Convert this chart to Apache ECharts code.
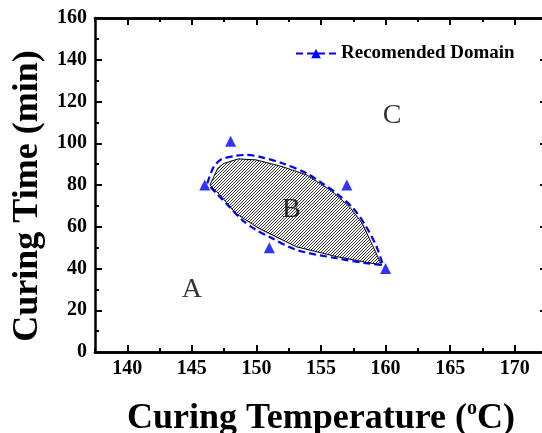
<!DOCTYPE html>
<html>
<head>
<meta charset="utf-8">
<script src="https://cdn.jsdelivr.net/npm/echarts@6/dist/echarts.min.js"></script>
<style>
  html, body { margin: 0; padding: 0; background: #fff; }
  #chart { width: 542px; height: 433px; }
</style>
</head>
<body>
<div id="chart"></div>
<script>
// experimental points (triangles)
const pointT = [146, 148, 151, 157, 160]
const pointTime = [80, 101, 50, 80, 40]

// hatched region (polygon outline)
const regionT = [146.4, 147.0, 147.5, 148.6, 150.0, 152.0, 153.9, 155.9, 157.2, 158.2, 159.7,
  156.2, 153.1, 150.2, 148.4, 147.3]
const regionTime = [80.0, 88.0, 90.4, 92.5, 92.0, 88.8, 84.8, 76.8, 69.6, 61.6, 41.6,
  45.7, 50.4, 59.2, 66.4, 74.4]

// dashed boundary of the recommended domain (closed)
const boundT = [146.2, 146.7, 147.3, 148.4, 149.2, 150.2, 152.0, 153.9, 155.1, 156.2, 157.5,
  158.5, 159.3, 159.8, 158.5, 156.2, 153.1, 151.0, 150.0, 148.9, 147.9, 146.9, 146.2]
const boundTime = [80.8, 88.8, 92.3, 94.0, 94.4, 93.6, 90.4, 85.6, 80.8, 76.0, 68.8,
  60.0, 50.4, 41.7, 42.5, 44.9, 48.9, 55.2, 58.4, 63.2, 69.6, 76.0, 80.8]

// zone letters
const zoneNames = ['A', 'B', 'C']
const zoneT = [145.0, 152.7, 160.5]
const zoneTime = [29.7, 68.0, 113.0]

const majorX = [140, 145, 150, 155, 160, 165, 170]

const FONT = 'Liberation Serif'

function hatchPattern() {
  const c = document.createElement('canvas')
  c.width = 3; c.height = 3
  const ctx = c.getContext('2d')
  ctx.fillStyle = '#fff'
  ctx.fillRect(0, 0, 3, 3)
  ctx.fillStyle = '#333'
  ctx.fillRect(0, 2, 1, 1)
  ctx.fillRect(1, 1, 1, 1)
  ctx.fillRect(2, 0, 1, 1)
  return c
}

const chart = echarts.init(document.getElementById('chart'), null, { renderer: 'canvas' })

const lineCol = '#000'
function xAxis(pos, major) {
  const a = {
    type: 'value', position: pos, min: 137.5, max: 172.5,
    axisLine: { show: true, onZero: false, lineStyle: { color: lineCol, width: 2.5 } },
    splitLine: { show: false },
    axisLabel: { show: false }
  }
  if (major) {
    a.axisTick = { show: true, inside: true, length: 7, lineStyle: { color: lineCol, width: 2 }, customValues: majorX }
    if (pos === 'bottom') {
      a.axisLabel = {
        show: true, customValues: majorX, margin: 7,
        color: '#000', fontFamily: FONT, fontWeight: 'bold', fontSize: 20
      }
      a.name = 'Curing Temperature ({sup|o}C)'
      a.nameLocation = 'middle'
      a.nameGap = 47
      a.nameTextStyle = {
        color: '#000', fontFamily: FONT, fontWeight: 'bold', fontSize: 36, lineHeight: 40,
        rich: { sup: { fontFamily: FONT, fontWeight: 'bold', fontSize: 20, verticalAlign: 'top', lineHeight: 22, color: '#000' } }
      }
    }
  } else {
    a.interval = 2.5
    a.axisTick = { show: true, inside: true, length: 4, lineStyle: { color: lineCol, width: 2 } }
  }
  return a
}

function yAxis(pos) {
  const a = {
    type: 'value', position: pos, min: 0, max: 160, interval: 20,
    axisLine: { show: true, onZero: false, lineStyle: { color: lineCol, width: 2.5 } },
    axisTick: { show: true, inside: true, length: 7, lineStyle: { color: lineCol, width: 2 } },
    minorTick: { show: true, splitNumber: 2, length: 4, lineStyle: { color: lineCol, width: 2 } },
    splitLine: { show: false },
    axisLabel: { show: false }
  }
  if (pos === 'left') {
    a.axisLabel = { show: true, margin: 8, color: '#000', fontFamily: FONT, fontWeight: 'bold', fontSize: 20 }
    a.name = 'Curing Time (min)'
    a.nameLocation = 'middle'
    a.nameGap = 48
    a.nameTextStyle = { color: '#000', fontFamily: FONT, fontWeight: 'bold', fontSize: 36, padding: [0, 22, 0, 0] }
  }
  return a
}

chart.setOption({
  animation: false,
  grid: { left: 95, right: -5, top: 18, bottom: 81, containLabel: false, outerBoundsMode: 'none' },
  xAxis: [xAxis('bottom', true), xAxis('bottom', false), xAxis('top', true), xAxis('top', false)],
  yAxis: [yAxis('left'), yAxis('right')],
  legend: {
    data: ['Recomended Domain'],
    left: 290, top: 39,
    itemWidth: 40, itemHeight: 12, itemGap: 10,
    textStyle: { color: '#000', fontFamily: FONT, fontWeight: 'bold', fontSize: 19 }
  },
  series: [
    {
      type: 'custom',
      name: 'region',
      data: [0],
      z: 2,
      renderItem: (params, api) => {
        const pts = regionT.map((t, i) => api.coord([t, regionTime[i]]))
        return {
          type: 'polygon',
          shape: { points: pts },
          style: { fill: { image: hatchPattern(), repeat: 'repeat' }, stroke: '#000', lineWidth: 1 }
        }
      }
    },
    {
      type: 'line',
      name: 'Recomended Domain',
      data: boundT.map((t, i) => [t, boundTime[i]]),
      smooth: 0.3,
      symbol: 'triangle',
      symbolSize: 10,
      showSymbol: false,
      itemStyle: { color: '#0000ff' },
      lineStyle: { color: '#0000ff', width: 2.2, type: [7, 4] },
      z: 3
    },
    {
      type: 'scatter',
      name: 'points',
      data: pointT.map((t, i) => [t, pointTime[i]]),
      symbol: 'triangle',
      symbolSize: 11,
      itemStyle: { color: '#0000ff' },
      z: 4
    },
    {
      type: 'scatter',
      name: 'zones',
      data: zoneT.map((t, i) => [t, zoneTime[i], zoneNames[i]]),
      symbolSize: 0,
      label: {
        show: true, position: 'inside',
        formatter: p => p.data[2],
        color: '#000', textBorderWidth: 0, fontFamily: FONT, fontSize: 28
      },
      z: 5
    }
  ]
})
</script>
</body>
</html>
